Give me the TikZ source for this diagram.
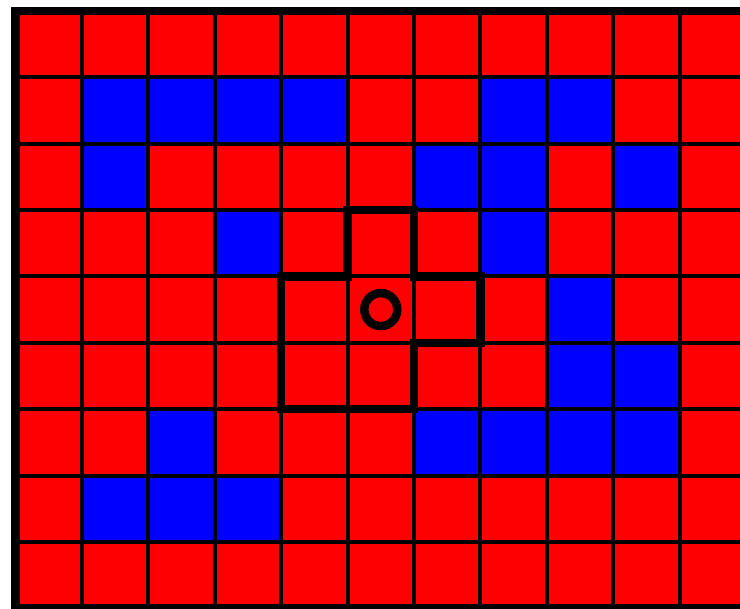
\documentclass[tikz,border=0pt]{standalone}
\tikzset{
  thinline/.style={line width=4pt, black},
  thickline/.style={line width=8.5pt, black, line join=miter},
  bluecell/.style={fill=blue},
}
\begin{document}
\begin{tikzpicture}[x=66.4pt,y=-66.4pt]
\useasboundingbox (0pt,0pt) rectangle (740pt,-609pt);
\clip (0pt,0pt) rectangle (740pt,-609pt);
\begin{scope}[shift={(15.6pt,-10.8pt)}]
  % background cells
  \fill[red] (0,0) rectangle (11,9);
  % blue cells (column/row)
  \foreach \c/\r in {1/1,2/1,3/1,4/1,7/1,8/1,
                     1/2,6/2,7/2,9/2,
                     3/3,7/3,
                     8/4,
                     8/5,9/5,
                     2/6,6/6,7/6,8/6,9/6,
                     1/7,2/7,3/7}
    \path[bluecell] (\c,\r) rectangle ++(1,1);
  % grid lines
  \foreach \i in {1,...,10}
    \draw[thinline] (\i,0) -- (\i,9);
  \foreach \j in {1,...,8}
    \draw[thinline] (0,\j) -- (11,\j);
  % outer frame
  \draw[thickline] (0,0) rectangle (11,9);
  % highlighted region outline
  \draw[thickline] (4,4) -- (5,4) -- (5,3) -- (6,3) -- (6,4) -- (7,4) -- (7,5)
    -- (6,5) -- (6,6) -- (4,6) -- cycle;
  % marker ring
  \draw[line width=8.5pt] (5.5,4.5) circle (16.5pt);
\end{scope}
\end{tikzpicture}
\end{document}
